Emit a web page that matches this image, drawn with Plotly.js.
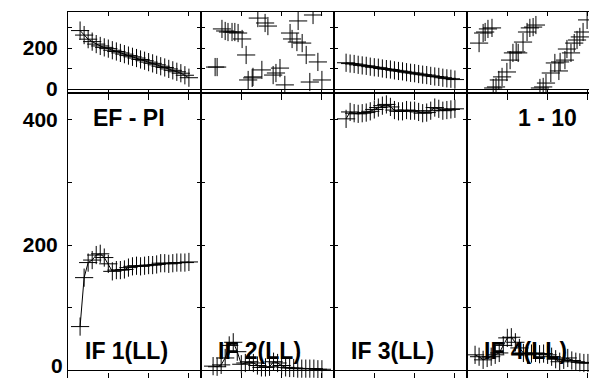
<!DOCTYPE html>
<html>
<head>
<meta charset="utf-8">
<script src="https://cdn.plot.ly/plotly-3.0.1.min.js"></script>
<style>
html,body{margin:0;padding:0;overflow:hidden;background:#fff;}
#chart{width:600px;height:390px;}
</style>
</head>
<body>
<div id="chart"></div>
<script>
// ---- data ----
const IDX_A = [3,4,5,6,7,8,9,10,11,12,13,14,15,16,17,18,19,20,21,22,23,24,25,26,27,28,29,30];
const IDX_B = [2,3,4,5,6,7,8,9,10,11,12,13,14,15,16,17,18,19,20,21,22,23,24,25,26,27,28,29,30];

const topCol1 = [285,263,243,231,219,210,203,197,189,183,176,170,163,157,151,144,138,131,125,118,111,105,98,91,84,77,67,55];
const topCol2X = [3.5,4.0,5.2,6.0,6.7,7.7,8.4,9.2,10.2,11.2,11.7,12.7,12.9,14.1,15.1,15.9,16.6,17.9,18.6,19.6,20.8,22.1,22.6,23.8,24.1,25.1,26.1,27.0,27.8,29.0,30.0];
const topCol2 = [107,107,293,283,278,278,278,273,244,166,44,54,59,346,93,322,307,68,78,102,20,273,244,229,332,224,166,34,361,132,44];
const topCol3 = [128,124,122,118,115,113,109,106,104,100,97,95,91,88,86,82,79,77,73,70,68,64,61,59,55,52,50,46];
const topCol4X = [3.0,4.0,4.5,5.2,6.2,6.5,7.2,7.9,8.7,9.9,10.7,11.4,12.2,12.7,13.9,14.9,15.6,16.4,17.1,18.1,18.9,19.6,20.8,21.8,22.8,23.1,24.3,24.8,25.8,26.6,27.3,28.0,28.8,29.8];
const topCol4 = [224,273,278,293,298,5,10,44,59,83,141,176,181,176,229,278,298,302,312,5,10,29,78,127,88,132,141,195,176,224,239,254,278,337];

const if1 = [70,148,172,176,184,186,180,170,158,160,160,161,164,166,167,166,167,168,168,169,171,171,170,171,172,172,172,173];
const if2 = [7,6,9,20,40,45,30,10,12,14,12,8,5,5,6,14,12,8,5,4,4,3,3,3,3,3,2,2];
const if3 = [401,412,410,409,410,411,413,416,419,422,424,420,415,413,413,415,414,414,412,410,411,414,419,417,414,415,416,417];
const if4 = [25,22,17,20,22,25,28,40,52,53,45,36,28,25,27,28,26,27,25,22,18,14,17,20,16,14,13,12,12];

const bottomLabels = ["IF 1(LL)","IF 2(LL)","IF 3(LL)","IF 4(LL)"];
const cornerLabels = ["EF - PI","1 - 10"];
const xTicks = [10,20,30];
const yTickValsTop = [0,200];
const yTickTextTop = ['0','200'];
const yTickValsBottom = [0,200,400];
const yTickTextBottom = ['0','200','400'];

// ---- build ----
function sfx(k){ return k===1 ? '' : String(k); }
function tr(x, y, k, mode){
  return {type:'scatter', x:x, y:y, xaxis:'x'+sfx(k), yaxis:'y'+sfx(k), mode:mode,
    line:{color:'#000', width:1},
    marker:{symbol:'cross-thin-open', size:13, color:'#000', line:{width:1, color:'#111'}},
    showlegend:false, hoverinfo:'skip'};
}
const data = [
  tr(IDX_A, if1, 1, 'lines+markers'),
  tr(IDX_A, if2, 2, 'lines+markers'),
  tr(IDX_A, if3, 3, 'lines+markers'),
  tr(IDX_B, if4, 4, 'lines+markers'),
  tr(IDX_A, topCol1, 5, 'lines+markers'),
  tr(topCol2X, topCol2, 6, 'markers'),
  tr(IDX_A, topCol3, 7, 'lines+markers'),
  tr(topCol4X, topCol4, 8, 'markers')
];

const FONT = 'Liberation Sans, Arial, Helvetica, sans-serif';
const TICKFONT = {family:FONT, size:21, weight:'bold', color:'#000'};
const split = 0.7799;
const layout = {
  width:600, height:390,
  margin:{l:68, r:0, t:12, b:10, pad:0},
  paper_bgcolor:'#fff', plot_bgcolor:'#fff',
  showlegend:false,
  font:{family:FONT, color:'#000'},
  annotations:[]
};
const colDom = [[0,0.25],[0.25,0.5],[0.5,0.75],[0.75,1]];
for (let c=0;c<4;c++){
  for (let r=0;r<2;r++){
    const k = r===0 ? c+1 : c+5;
    const isTop = r===1;
    layout['xaxis'+sfx(k)] = {
      domain:colDom[c], anchor:'y'+sfx(k), range:[0,33],
      tickvals:xTicks, showticklabels:false,
      showline:true, linecolor:'#000', linewidth:1, mirror:'ticks',
      ticks:'inside', ticklen:isTop?4:7, tickcolor:'#000', tickwidth:1,
      showgrid:false, zeroline:false, fixedrange:true
    };
    const tv = isTop ? yTickValsTop : yTickValsBottom;
    // the bottom-most "0" label is placed as an annotation so it stays inside the picture
    const tt = isTop ? yTickTextTop : yTickTextBottom.map((t,i)=> i===0 ? '' : t);
    layout['yaxis'+sfx(k)] = {
      domain:isTop?[split,1]:[0,split], anchor:'x'+sfx(k),
      range:isTop?[-19.5,375.6]:[-15.1,442.2],
      tickmode:'array', tickvals:tv, ticktext:tt,
      minor:{dtick:100, ticks:'inside', ticklen:4, tickcolor:'#000'},
      showticklabels:c===0, ticklabelstandoff:5,
      tickfont:TICKFONT,
      showline:true, linecolor:'#000', linewidth:1, mirror:'ticks',
      ticks:'inside', ticklen:4, tickcolor:'#000', tickwidth:1,
      showgrid:false, zeroline:true, zerolinecolor:'#000', zerolinewidth:1, fixedrange:true
    };
  }
  layout.annotations.push({
    xref:'x'+sfx(c+1)+' domain', yref:'y'+sfx(c+1)+' domain',
    x:0.113, y:0.101, xanchor:'left', yanchor:'middle', showarrow:false,
    text:bottomLabels[c], font:{family:FONT, size:23, weight:'bold', color:'#000'}
  });
}
layout.annotations.push({xref:'x domain', yref:'y domain', x:0.459, y:0.913, xanchor:'center', yanchor:'middle', showarrow:false,
  text:cornerLabels[0], font:{family:FONT, size:23, weight:'bold', color:'#000'}});
layout.annotations.push({xref:'x4 domain', yref:'y4 domain', x:0.609, y:0.913, xanchor:'center', yanchor:'middle', showarrow:false,
  text:cornerLabels[1], font:{family:FONT, size:23, weight:'bold', color:'#000'}});
layout.annotations.push({xref:'paper', yref:'paper', x:0, y:0.0054, xanchor:'right', yanchor:'bottom',
  xshift:-4, showarrow:false, borderpad:0, text:yTickTextBottom[0], font:TICKFONT});

Plotly.newPlot('chart', data, layout, {staticPlot:true, displayModeBar:false});
</script>
</body>
</html>
